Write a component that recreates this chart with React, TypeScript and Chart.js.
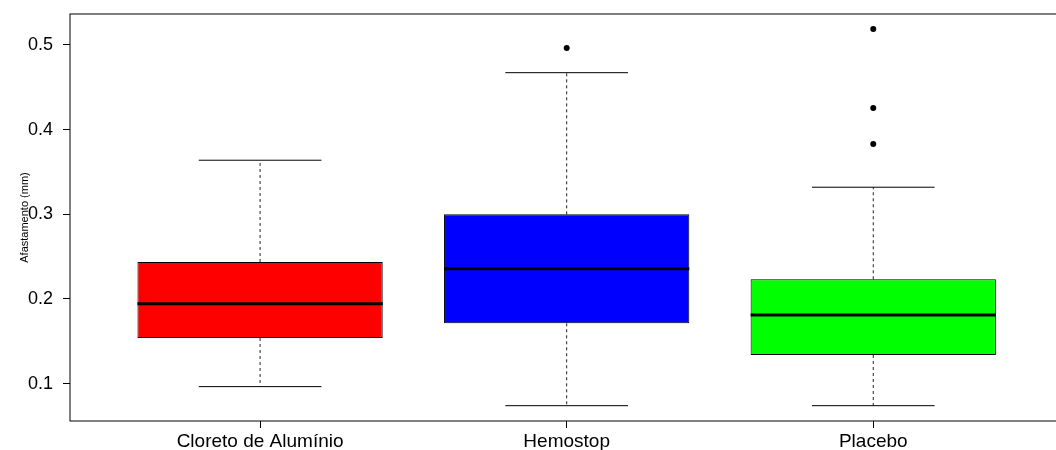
import React, { useEffect, useRef } from "react";
import { Chart, registerables } from "chart.js";

Chart.register(...registerables);

// ---- data ----
const categories = ["Cloreto de Alumínio", "Hemostop", "Placebo"];
const whiskerLow = [0.0965, 0.074, 0.074];
const q1 = [0.154, 0.1713, 0.1339];
const median = [0.1945, 0.2358, 0.1811];
const q3 = [0.2437, 0.3, 0.2233];
const whiskerHigh = [0.3639, 0.4673, 0.332];
const outliers: number[][] = [[], [0.4965], [0.5189, 0.4256, 0.3831]];
const boxColors = ["#FF0000", "#0000FF", "#00FF00"];
const yTicks = [0.1, 0.2, 0.3, 0.4, 0.5];
const yLabel = "Afastamento (mm)";

const FONT = "'Liberation Sans', Arial, Helvetica, sans-serif";

const boxPlugin = {
  id: "boxplotParts",
  afterDatasetsDraw(chart: any) {
    const { ctx, scales, chartArea } = chart;
    const xs = scales.x;
    const ys = scales.y;
    const meta = chart.getDatasetMeta(0);
    const line = (x1: number, y1: number, x2: number, y2: number) => {
      ctx.beginPath();
      ctx.moveTo(x1, y1);
      ctx.lineTo(x2, y2);
      ctx.stroke();
    };
    ctx.save();
    categories.forEach((_, i) => {
      const bar = meta.data[i];
      const cx = xs.getPixelForValue(i + 1);
      const half = bar.width / 2;
      // dashed whiskers
      ctx.setLineDash([3, 3]);
      ctx.lineWidth = 1;
      ctx.strokeStyle = "#222";
      line(cx, ys.getPixelForValue(q3[i]), cx, ys.getPixelForValue(whiskerHigh[i]));
      line(cx, ys.getPixelForValue(q1[i]), cx, ys.getPixelForValue(whiskerLow[i]));
      ctx.setLineDash([]);
      // caps
      ctx.strokeStyle = "#000";
      const yh = ys.getPixelForValue(whiskerHigh[i]);
      const yl = ys.getPixelForValue(whiskerLow[i]);
      line(cx - half / 2, yh, cx + half / 2, yh);
      line(cx - half / 2, yl, cx + half / 2, yl);
      // median
      ctx.lineWidth = 3;
      const ym = ys.getPixelForValue(median[i]);
      line(cx - half, ym, cx + half, ym);
    });
    // frame
    ctx.lineWidth = 1;
    ctx.strokeStyle = "#000";
    ctx.strokeRect(chartArea.left, chartArea.top, chartArea.right - chartArea.left + 20, chartArea.bottom - chartArea.top);
    ctx.restore();
  },
};

export default function App() {
  const ref = useRef<HTMLCanvasElement | null>(null);

  useEffect(() => {
    if (!ref.current) return;
    const boxData = categories.map((_, i) => ({ x: i + 1, y: [q1[i], q3[i]] }));
    const outlierData = outliers.flatMap((vals, i) => vals.map((v) => ({ x: i + 1, y: v })));

    const chart = new Chart(ref.current, {
      type: "bar",
      data: {
        datasets: [
          {
            type: "bar",
            data: boxData as any,
            backgroundColor: boxColors,
            borderColor: "#000",
            borderWidth: 1,
            borderSkipped: false,
            barPercentage: 0.8,
            categoryPercentage: 1,
            order: 2,
          } as any,
          {
            type: "scatter",
            data: outlierData as any,
            pointRadius: 3,
            pointBackgroundColor: "#000",
            pointBorderWidth: 0,
            order: 1,
          } as any,
        ],
      },
      options: {
        responsive: false,
        animation: false,
        layout: { padding: { top: 14, left: 0, right: 0, bottom: 0 } },
        plugins: { legend: { display: false }, tooltip: { enabled: false } },
        scales: {
          x: {
            type: "linear",
            min: 0.38,
            max: 3.583,
            offset: false,
            afterBuildTicks: (s: any) => {
              s.ticks = categories.map((_, i) => ({ value: i + 1 }));
            },
            afterFit: (s: any) => {
              s.height = 29;
              s.paddingLeft = 0;
              s.paddingRight = 0;
            },
            ticks: {
              callback: (v: any) => categories[Math.round(Number(v)) - 1] ?? "",
              font: { family: FONT, size: 19 },
              color: "#000",
              padding: 2,
              autoSkip: false,
              maxRotation: 0,
            },
            grid: {
              offset: false,
              drawOnChartArea: false,
              drawTicks: true,
              tickLength: 7,
              color: "#000",
            },
            border: { display: false },
          } as any,
          y: {
            type: "linear",
            min: 0.0559,
            max: 0.5366,
            afterBuildTicks: (s: any) => {
              s.ticks = yTicks.map((v) => ({ value: v }));
            },
            afterFit: (s: any) => {
              s.width = 70;
              s.paddingTop = 0;
              s.paddingBottom = 0;
            },
            ticks: {
              callback: (v: any) => Number(v).toFixed(1),
              font: { family: FONT, size: 18 },
              color: "#000",
              padding: 10,
            },
            grid: {
              drawOnChartArea: false,
              drawTicks: true,
              tickLength: 7,
              color: "#000",
            },
            border: { display: false },
            title: {
              display: true,
              text: yLabel,
              font: { family: FONT, size: 11 },
              color: "#000",
              padding: { top: 18, bottom: 0 },
            },
          } as any,
        },
      },
      plugins: [boxPlugin],
    });
    return () => chart.destroy();
  }, []);

  return (
    <div style={{ position: "absolute", left: 0, top: 0, width: 1056, height: 450 }}>
      <canvas ref={ref} width={1056} height={450} style={{ display: "block" }} />
    </div>
  );
}
